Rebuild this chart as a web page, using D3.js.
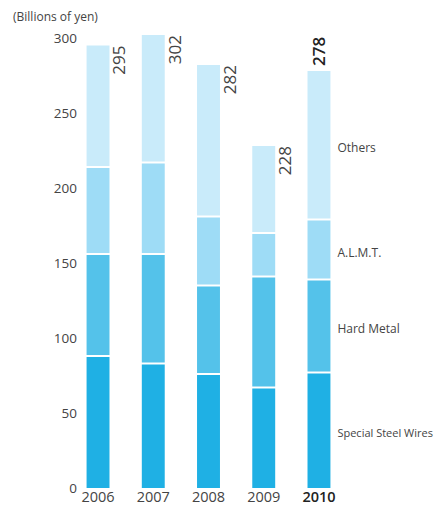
<!DOCTYPE html>
<html><head><meta charset="utf-8">
<script src="https://cdn.jsdelivr.net/npm/d3@7"></script>
<style>body{margin:0;background:#fff}svg{display:block}text{font-family:"Open Sans",sans-serif}</style>
</head><body><div id="c"></div>
<script>
const years = ["2006","2007","2008","2009","2010"];
const seriesNames = ["Special Steel Wires","Hard Metal","A.L.M.T.","Others"];
const specialSteelWires = [88, 83, 76, 67, 77];
const hardMetal = [68, 73, 59, 74, 62];
const almt = [58, 61, 46, 29, 40];
const others = [81, 85, 101, 58, 99];
const totals = [295, 302, 282, 228, 278];
const yTicks = [0, 50, 100, 150, 200, 250, 300];
const colors = ["#1fb0e4", "#54c2ea", "#9edcf6", "#c9ebfa"];

const W = 440, H = 506;
const svg = d3.select("#c").append("svg").attr("width", W).attr("height", H);

const x = d3.scaleBand().domain(years).range([70, 347]).paddingInner(0.585).paddingOuter(0.3);
const y = d3.scaleLinear().domain([0, 300]).range([488, 38]);

const rows = years.map((yr, i) => ({year: yr, "Special Steel Wires": specialSteelWires[i], "Hard Metal": hardMetal[i], "A.L.M.T.": almt[i], "Others": others[i]}));
const stacked = d3.stack().keys(seriesNames)(rows);

const g = svg.append("g");
stacked.forEach((layer, li) => {
  g.selectAll(null).data(layer).enter().append("rect")
    .attr("x", d => x(d.data.year))
    .attr("width", x.bandwidth())
    .attr("y", d => y(d[1]) + (li < 3 ? 1 : 0))
    .attr("height", d => Math.max(0, y(d[0]) - y(d[1]) - (li < 3 ? 1 : 0) - (li > 0 ? 1 : 0)))
    .attr("fill", colors[li]);
});

// y axis
const ax = svg.append("g").attr("transform", "translate(77,0)")
  .call(d3.axisLeft(y).tickValues(yTicks).tickSize(0).tickPadding(0));
ax.select(".domain").remove();
ax.selectAll("text").attr("fill", "#444").style("font-size", "13.5px").style("font-family", '"Open Sans",sans-serif');

// x axis labels
svg.selectAll(".xl").data(years).enter().append("text")
  .attr("x", d => x(d) + x.bandwidth() / 2)
  .attr("y", 502)
  .attr("text-anchor", "middle")
  .attr("fill", (d, i) => i === years.length - 1 ? "#222" : "#444")
  .style("font-size", "14.5px")
  .style("font-weight", (d, i) => i === years.length - 1 ? "600" : "normal")
  .text(d => d);

// unit
svg.append("text").attr("x", 13).attr("y", 21).attr("fill", "#444")
  .style("font-size", "12px").text("(Billions of yen)");

// total labels (rotated)
totals.forEach((t, i) => {
  const last = i === totals.length - 1;
  const cx = last ? x(years[i]) + x.bandwidth() / 2 + 6 : x(years[i]) + x.bandwidth() + 16;
  const cy = last ? y(t) - 5 : y(t);
  svg.append("text")
    .attr("transform", `translate(${cx},${cy}) rotate(-90)`)
    .attr("text-anchor", last ? "start" : "end")
    .attr("fill", last ? "#222" : "#444")
    .style("font-size", "17px")
    .style("font-weight", last ? "600" : "normal")
    .text(t);
});

// series labels next to last bar
const lastIdx = years.length - 1;
stacked.forEach((layer, li) => {
  const d = layer[lastIdx];
  svg.append("text")
    .attr("x", x(years[lastIdx]) + x.bandwidth() + 7)
    .attr("y", y((d[0] + d[1]) / 2) + 7)
    .attr("fill", "#444")
    .style("font-size", li === 0 ? "11px" : "12px")
    .text(seriesNames[li]);
});
</script></body></html>
